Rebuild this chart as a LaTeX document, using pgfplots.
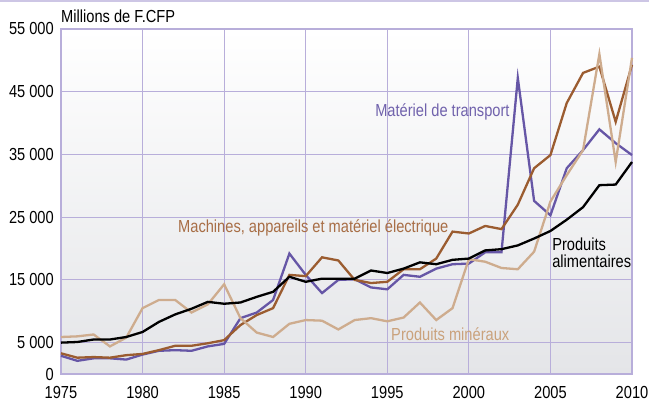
\documentclass[border=0pt]{standalone}
\usepackage{fontspec}
\setmainfont{Liberation Sans}[FakeStretch=0.84]
\usepackage{pgfplots}
\pgfplotsset{compat=1.18}
\definecolor{lav}{RGB}{184,174,218}
\definecolor{purp}{RGB}{102,86,166}
\definecolor{brn}{RGB}{155,92,48}
\definecolor{tan2}{RGB}{206,172,142}
\definecolor{purpT}{RGB}{112,98,172}
\definecolor{brnT}{RGB}{168,110,70}
\definecolor{tanT}{RGB}{202,162,124}
\definecolor{bgbot}{RGB}{228,229,232}
\begin{document}
\begin{tikzpicture}[font=\fontsize{17.5}{20}\selectfont]
\begin{axis}[
  name=ax,
  scale only axis,
  width=571bp, height=345bp,
  xmin=1975, xmax=2010, ymin=0, ymax=55000,
  scaled ticks=false,
  xtick={1975,1980,1985,1990,1995,2000,2005,2010},
  xticklabels={1975,1980,1985,1990,1995,2000,2005,2010},
  ytick={0,5000,15000,25000,35000,45000,55000},
  yticklabels={0,{5 000},{15 000},{25 000},{35 000},{45 000},{55 000}},
  major tick length=0pt,
  grid=major,
  major grid style={draw=lav, line width=1.1bp},
  axis line style={draw=lav, line width=1.1bp},
  yticklabel style={anchor=east, inner sep=0pt, xshift=-7bp},
  xticklabel style={anchor=north, inner sep=0pt, yshift=-12bp},
  axis background/.style={top color=white, bottom color=bgbot},
  clip=false,
  every axis plot/.append style={line width=2.3bp, mark=none},
]
\addplot[purp] coordinates {(1975,2900)(1976,2100)(1977,2500)(1978,2500)(1979,2300)(1980,3100)(1981,3700)(1982,3800)(1983,3700)(1984,4400)(1985,4800)(1986,8900)(1987,9800)(1988,11800)(1989,19200)(1990,15800)(1991,12900)(1992,15000)(1993,15100)(1994,13800)(1995,13500)(1996,15800)(1997,15500)(1998,16800)(1999,17500)(2000,17600)(2001,19400)(2002,19400)(2003,47200)(2004,27600)(2005,25300)(2006,32800)(2007,35700)(2008,39000)(2009,36800)(2010,34900)};
\addplot[brn] coordinates {(1975,3300)(1976,2600)(1977,2700)(1978,2600)(1979,3000)(1980,3200)(1981,3800)(1982,4500)(1983,4500)(1984,4900)(1985,5400)(1986,7800)(1987,9400)(1988,10500)(1989,15800)(1990,15600)(1991,18600)(1992,18100)(1993,15000)(1994,14500)(1995,14700)(1996,16700)(1997,16700)(1998,18400)(1999,22700)(2000,22400)(2001,23600)(2002,23100)(2003,27000)(2004,32800)(2005,34900)(2006,43200)(2007,48000)(2008,49000)(2009,40200)(2010,49300)};
\addplot[tan2] coordinates {(1975,5900)(1976,6000)(1977,6300)(1978,4400)(1979,5800)(1980,10500)(1981,11800)(1982,11800)(1983,9800)(1984,11100)(1985,14300)(1986,8900)(1987,6600)(1988,5900)(1989,8000)(1990,8600)(1991,8500)(1992,7100)(1993,8600)(1994,8900)(1995,8400)(1996,9000)(1997,11400)(1998,8600)(1999,10500)(2000,18300)(2001,17900)(2002,16900)(2003,16700)(2004,19500)(2005,27500)(2006,31700)(2007,35700)(2008,51000)(2009,33800)(2010,50400)};
\addplot[black] coordinates {(1975,5000)(1976,5100)(1977,5500)(1978,5500)(1979,5900)(1980,6700)(1981,8300)(1982,9500)(1983,10400)(1984,11500)(1985,11200)(1986,11400)(1987,12300)(1988,13100)(1989,15500)(1990,14700)(1991,15200)(1992,15200)(1993,15200)(1994,16500)(1995,16100)(1996,16800)(1997,17800)(1998,17500)(1999,18200)(2000,18400)(2001,19700)(2002,19900)(2003,20500)(2004,21600)(2005,22800)(2006,24600)(2007,26600)(2008,30100)(2009,30200)(2010,33800)};
\node[anchor=west, inner sep=0pt, text=purpT] at (axis cs:1994.25,41800) {Matériel de transport};
\node[anchor=west, inner sep=0pt, text=brnT] at (axis cs:1982.17,23300) {Machines, appareils et matériel électrique};
\node[anchor=west, inner sep=0pt, align=left, text=black, font=\fontsize{17.5}{17}\selectfont] at (axis cs:2005.1,19300) {Produits\\alimentaires};
\node[anchor=west, inner sep=0pt, text=tanT] at (axis cs:1995.23,6400) {Produits minéraux};
\node[anchor=base west, inner sep=0pt] at ([yshift=6bp]rel axis cs:0,1) {Millions de F.CFP};
\end{axis}
\pgfresetboundingbox
\path[use as bounding box] ([xshift=-61bp,yshift=-32bp]ax.south west) rectangle ([xshift=17bp,yshift=29bp]ax.north east);
\fill[lav!70] ([xshift=-61bp,yshift=27bp]ax.north west) rectangle ([xshift=17bp,yshift=29bp]ax.north east);
\end{tikzpicture}
\end{document}
